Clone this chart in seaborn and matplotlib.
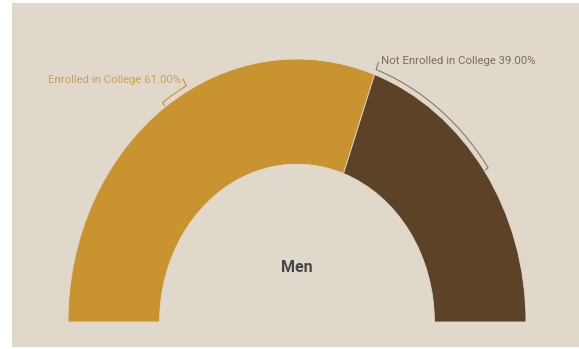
import numpy as np
import matplotlib
matplotlib.use("Agg")
import matplotlib.pyplot as plt
from matplotlib.patches import Rectangle
from matplotlib import font_manager
import seaborn as sns

# ---- data ----
categories = ["Enrolled in College", "Not Enrolled in College"]
values = [61.0, 39.0]
center_label = "Men"

# ---- style ----
BG = "#E0D9CB"
COLORS = ["#C9932F", "#5C4226"]
LABEL_COLORS = ["#CFA04A", "#7D6C5B"]
LEADER_COLORS = ["#C9932F", "#8A7867"]

sns.set_theme(style="white")

def pick_font(cands):
    for c in cands:
        try:
            font_manager.findfont(c, fallback_to_default=False)
            return c
        except Exception:
            pass
    return "DejaVu Sans"

FONT = pick_font(["Liberation Sans Narrow", "Roboto", "DejaVu Sans"])
plt.rcParams["font.family"] = [FONT, "DejaVu Sans"]

W, H = 579, 349
fig = plt.figure(figsize=(W / 100, H / 100), dpi=100)
fig.patch.set_facecolor("white")
fig.add_artist(Rectangle((12 / W, 2 / H), (W - 12) / W, (347 - 3) / H,
                         transform=fig.transFigure, facecolor=BG,
                         edgecolor="none", zorder=0))

ax = fig.add_axes([12 / W, 2 / H, (W - 12) / W, (347 - 3) / H])
ax.set_facecolor("none")

total = sum(values)
wedges, _ = ax.pie(values + [total], startangle=180, counterclock=False,
                   colors=COLORS + ["none"], radius=1.0,
                   wedgeprops=dict(width=0.4, edgecolor=BG, linewidth=0.6))
wedges[-1].set_visible(False)

# pixel geometry: centre at (297, 322 from top), rx=229, ry=263
cx, cy, rx, ry = 297, 322, 229, 263
ax.set_xlim((12 - cx) / rx, (W - cx) / rx)
ax.set_ylim(((H - 347) - (H - cy)) / ry, ((H - 3) - (H - cy)) / ry)
ax.set_aspect("auto")
ax.axis("off")

def pt(r, deg):
    t = np.deg2rad(deg)
    return r * np.cos(t), r * np.sin(t)

# slice angles
cum = np.concatenate([[0], np.cumsum(values)])
starts = 180 - cum[:-1] / total * 180
ends = 180 - cum[1:] / total * 180
mids = (starts + ends) / 2

# leader brackets + labels
label_angles = [mids[0] - 6.8, starts[1]]
for i, (cat, v) in enumerate(zip(categories, values)):
    m, la = mids[i], label_angles[i]
    col = LEADER_COLORS[i]
    rb = 1.02
    x0, y0 = pt(1.003, m)
    x1, y1 = pt(rb, m)
    ax.plot([x0, x1], [y0, y1], color=col, lw=0.8, solid_capstyle="butt")
    th = np.linspace(m, la, 40)
    xs, ys = pt(rb, th)
    ax.plot(xs, ys, color=col, lw=0.8)
    x2, y2 = pt(1.05, la)
    ax.plot([xs[-1], x2], [ys[-1], y2], color=col, lw=0.8)
    ha = "right" if i == 0 else "left"
    dx = -1 if i == 0 else 2
    dy = -0.5 if i == 0 else 1
    ax.annotate(f"{cat} {v:.2f}%", (x2, y2), xytext=(dx, dy),
                textcoords="offset points", ha=ha, va="center",
                fontsize=8.2, color=LABEL_COLORS[i])

ax.text(0, (cy - 268) / ry, center_label, ha="center", va="center",
        fontsize=11.5, fontweight="bold", color="#454545")

fig.savefig("out.png", dpi=100, facecolor=fig.get_facecolor())
